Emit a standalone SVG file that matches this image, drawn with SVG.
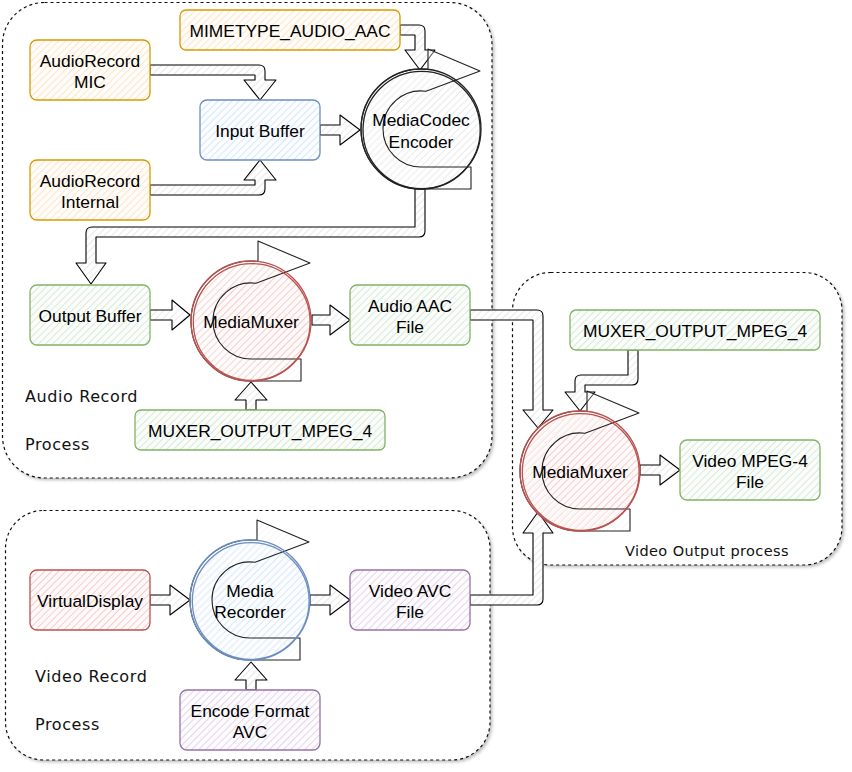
<svg xmlns="http://www.w3.org/2000/svg" width="852" height="772" viewBox="0 0 852 772">
<style>
.t{font-family:"Liberation Sans",Arial,sans-serif;font-size:17.4px;fill:#000;text-anchor:middle}
.h{font-family:"DejaVu Sans",sans-serif;font-size:16px;fill:#111;letter-spacing:0.6px}
.hs{font-family:"DejaVu Sans",sans-serif;font-size:14.5px;fill:#111;letter-spacing:0.4px}
.cont{fill:#fff;stroke:#111;stroke-width:1.2;stroke-dasharray:3 3;filter:url(#sh)}
.box{stroke-width:1.3}
.or{fill:url(#pO);stroke:#d79b00}
.bl{fill:url(#pB);stroke:#6c8ebf}
.gr{fill:url(#pG);stroke:#82b366}
.rd{fill:url(#pR);stroke:#b85450}
.pu{fill:url(#pP);stroke:#9673a6}
.arr{fill:url(#pK);stroke:#000;stroke-width:1.1;stroke-linejoin:round}
.cyc{fill:url(#pK);fill-opacity:0.35;stroke:#222;stroke-width:1.1;stroke-linejoin:round}
.cr{fill:none;stroke-width:1.3}
</style>
<defs>
<filter id="sh" x="-5%" y="-5%" width="112%" height="112%"><feDropShadow dx="2" dy="2" stdDeviation="1.5" flood-color="#000" flood-opacity="0.25"/></filter>
<pattern id="pO" width="5" height="5" patternUnits="userSpaceOnUse" patternTransform="rotate(45)"><rect width="5" height="5" fill="#fffdfa"/><line x1="0" y1="0" x2="0" y2="5" stroke="#ffdfbb" stroke-width="1.6"/></pattern>
<pattern id="pB" width="5" height="5" patternUnits="userSpaceOnUse" patternTransform="rotate(45)"><rect width="5" height="5" fill="#fbfdff"/><line x1="0" y1="0" x2="0" y2="5" stroke="#d0e2fb" stroke-width="1.6"/></pattern>
<pattern id="pG" width="5" height="5" patternUnits="userSpaceOnUse" patternTransform="rotate(45)"><rect width="5" height="5" fill="#fbfdfb"/><line x1="0" y1="0" x2="0" y2="5" stroke="#d0e6cf" stroke-width="1.6"/></pattern>
<pattern id="pR" width="5" height="5" patternUnits="userSpaceOnUse" patternTransform="rotate(45)"><rect width="5" height="5" fill="#fffafa"/><line x1="0" y1="0" x2="0" y2="5" stroke="#f4c4c2" stroke-width="1.7"/></pattern>
<pattern id="pP" width="5" height="5" patternUnits="userSpaceOnUse" patternTransform="rotate(45)"><rect width="5" height="5" fill="#fdfbfe"/><line x1="0" y1="0" x2="0" y2="5" stroke="#ddd0e4" stroke-width="1.6"/></pattern>
<pattern id="pK" width="5" height="5" patternUnits="userSpaceOnUse" patternTransform="rotate(45)"><rect width="5" height="5" fill="#ffffff"/><line x1="0" y1="0" x2="0" y2="5" stroke="#e0e0e0" stroke-width="1.4"/></pattern>
<path id="cyc" d="M50,38 H0 A38,38 0 0 1 -38,0 A38,38 0 0 1 5,-37.7 L59,-58 L7,-80 L7,-59.6 A60,60 0 0 0 -60,0 A60,60 0 0 0 0,60 H50 Z"/>
</defs>
<rect width="852" height="772" fill="#fff"/>

<g id="containers">
<rect id="audio-process" class="cont" x="2.5" y="2.5" width="489.5" height="475.5" rx="42"/>
<rect id="video-record-process" class="cont" x="5.5" y="510.5" width="484.5" height="249.5" rx="38"/>
<rect id="video-output-process" class="cont" x="512.5" y="272.5" width="329.5" height="292.5" rx="38"/>
</g>

<g id="labels">
<text class="h" x="25" y="402">Audio Record</text>
<text class="h" x="25" y="450">Process</text>
<text class="h" x="35" y="682">Video Record</text>
<text class="h" x="35" y="730">Process</text>
<text class="hs" x="625" y="556">Video Output process</text>
</g>

<g id="connectors">
<path class="arr" d="M150,65 H259 Q265,65 265,71 V80 H276 L260,100 L244,80 H255 V75 H150 Z"/>
<path class="arr" d="M150,195 H259 Q265,195 265,189 V180 H276 L260,160 L244,180 H255 V185 H150 Z"/>
<path class="arr" d="M320,125 H340 V115 L360,130 L340,145 V135 H320 Z"/>
<path class="arr" d="M400,25 H419 Q425,25 425,31 V50 H435 L420,70 L405,50 H415 V35 H400 Z"/>
<path class="arr" d="M415,189 V227 H92 Q86,227 86,233 V263 H76 L91,284 L106,263 H96 V237 H419 Q425,237 425,231 V189 Z"/>
<path class="arr" d="M150,310 H172 V300 L190,315 L172,330 V320 H150 Z"/>
<path class="arr" d="M312,315 H330 V305 L350,320 L330,335 V325 H312 Z"/>
<path class="arr" d="M246,410 V400 H235 L251,382 L267,400 H256 V410 Z"/>
<path class="arr" d="M470,310 H537 Q543,310 543,316 V410 H553 L538,428 L523,410 H533 V320 H470 Z"/>
<path class="arr" d="M470,595 H533 V533 H523 L538,512 L553,533 H543 V599 Q543,605 537,605 H470 Z"/>
<path class="arr" d="M628,350 V375 H581 Q575,375 575,381 V392 H565 L580,411 L595,392 H585 V385 H632 Q638,385 638,379 V350 Z"/>
<path class="arr" d="M640,465 H660 V455 L680,470 L660,485 V475 H640 Z"/>
<path class="arr" d="M150,595 H170 V585 L190,600 L170,615 V605 H150 Z"/>
<path class="arr" d="M310,595 H330 V585 L350,600 L330,615 V605 H310 Z"/>
<path class="arr" d="M246,690 V680 H235 L251,662 L267,680 H256 V690 Z"/>
</g>

<g id="mimetype-audio-aac">
<rect class="box or" x="180" y="10" width="220" height="40" rx="6"/>
<text class="t" x="290" y="36.5">MIMETYPE_AUDIO_AAC</text>
</g>
<g id="audiorecord-mic">
<rect class="box or" x="30" y="40" width="120" height="60" rx="7"/>
<text class="t" x="90" y="66.5">AudioRecord</text>
<text class="t" x="90" y="88">MIC</text>
</g>
<g id="input-buffer">
<rect class="box bl" x="200" y="100" width="120" height="60" rx="7"/>
<text class="t" x="260" y="136.5">Input Buffer</text>
</g>
<g id="audiorecord-internal">
<rect class="box or" x="30" y="160" width="120" height="60" rx="7"/>
<text class="t" x="90" y="186.5">AudioRecord</text>
<text class="t" x="90" y="208">Internal</text>
</g>
<g id="mediacodec-encoder">
<circle cx="421" cy="129" r="60" fill="url(#pK)"/>
<use href="#cyc" class="cyc" transform="translate(421,129)"/>
<circle class="cr" cx="421" cy="129" r="60" stroke="#222"/>
<circle class="cr" cx="421.6" cy="130" r="58.6" stroke="#222"/>
<text class="t" x="421" y="126">MediaCodec</text>
<text class="t" x="421" y="148">Encoder</text>
</g>
<g id="output-buffer">
<rect class="box gr" x="30" y="285" width="120" height="60" rx="7"/>
<text class="t" x="90" y="321.5">Output Buffer</text>
</g>
<g id="mediamuxer-audio">
<circle cx="251" cy="321" r="60" fill="url(#pR)"/>
<use href="#cyc" class="cyc" transform="translate(251,321)"/>
<circle class="cr" cx="251" cy="321" r="60" stroke="#b85450"/>
<circle class="cr" cx="251.7" cy="322" r="58.4" stroke="#b85450"/>
<text class="t" x="251" y="327.5">MediaMuxer</text>
</g>
<g id="audio-aac-file">
<rect class="box gr" x="350" y="285" width="120" height="60" rx="7"/>
<text class="t" x="410" y="311.5">Audio AAC</text>
<text class="t" x="410" y="333">File</text>
</g>
<g id="muxer-output-mpeg4-audio">
<rect class="box gr" x="135" y="410" width="250" height="40" rx="6"/>
<text class="t" x="260" y="436.5">MUXER_OUTPUT_MPEG_4</text>
</g>
<g id="muxer-output-mpeg4-video">
<rect class="box gr" x="570" y="310" width="250" height="40" rx="6"/>
<text class="t" x="695" y="336.5">MUXER_OUTPUT_MPEG_4</text>
</g>
<g id="mediamuxer-video">
<circle cx="580" cy="471" r="60" fill="url(#pR)"/>
<use href="#cyc" class="cyc" transform="translate(580,471)"/>
<circle class="cr" cx="580" cy="471" r="60" stroke="#b85450"/>
<circle class="cr" cx="580.7" cy="472" r="58.4" stroke="#b85450"/>
<text class="t" x="580" y="477.5">MediaMuxer</text>
</g>
<g id="video-mpeg4-file">
<rect class="box gr" x="680" y="440" width="140" height="60" rx="7"/>
<text class="t" x="750" y="466.5">Video MPEG-4</text>
<text class="t" x="750" y="488">File</text>
</g>
<g id="virtualdisplay">
<rect class="box rd" x="30" y="570" width="120" height="60" rx="7"/>
<text class="t" x="90" y="606.5">VirtualDisplay</text>
</g>
<g id="media-recorder">
<circle cx="250" cy="600" r="60" fill="url(#pB)"/>
<use href="#cyc" class="cyc" transform="translate(250,600)"/>
<circle class="cr" cx="250" cy="600" r="60" stroke="#6c8ebf"/>
<circle class="cr" cx="250.7" cy="601" r="58.4" stroke="#6c8ebf"/>
<text class="t" x="250" y="596.5">Media</text>
<text class="t" x="250" y="618">Recorder</text>
</g>
<g id="video-avc-file">
<rect class="box pu" x="350" y="570" width="120" height="60" rx="7"/>
<text class="t" x="410" y="596.5">Video AVC</text>
<text class="t" x="410" y="618">File</text>
</g>
<g id="encode-format-avc">
<rect class="box pu" x="180" y="690" width="140" height="60" rx="7"/>
<text class="t" x="250" y="716.5">Encode Format</text>
<text class="t" x="250" y="738">AVC</text>
</g>
</svg>
